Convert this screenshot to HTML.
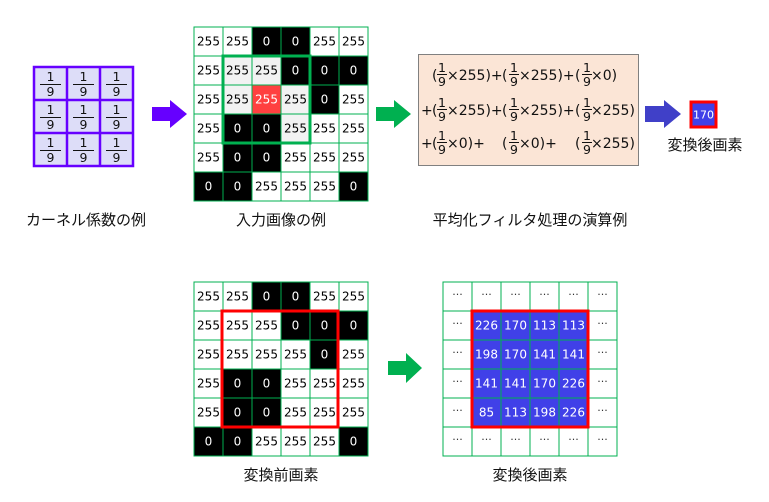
<!DOCTYPE html>
<html><head><meta charset="utf-8"><style>
html,body{margin:0;padding:0;background:#fff;}
svg{display:block;}
text{font-family:"DejaVu Sans","Liberation Sans","Noto Sans CJK JP",sans-serif;}
.n{font-size:12px;text-anchor:middle;}
.w{fill:#fff;}
.lb{font-family:"Liberation Sans","Noto Sans CJK JP",sans-serif;font-size:15px;text-anchor:middle;fill:#111;}
.f{font-size:14px;fill:#111;}
.fr{font-size:12.5px;text-anchor:middle;fill:#111;}
</style></head><body>
<svg width="769" height="502" viewBox="0 0 769 502" xmlns="http://www.w3.org/2000/svg">
<!-- kernel -->
<rect x="34" y="67" width="99" height="99" fill="#ddddf8" stroke="#6600ff" stroke-width="2.5"/>
<path d="M67 67V166M100 67V166M34 100H133M34 133H133" stroke="#6600ff" stroke-width="2.5"/>
<g class="fr">
<text x="50.5" y="81">1</text><text x="83.5" y="81">1</text><text x="116.5" y="81">1</text>
<text x="50.5" y="96">9</text><text x="83.5" y="96">9</text><text x="116.5" y="96">9</text>
<text x="50.5" y="114">1</text><text x="83.5" y="114">1</text><text x="116.5" y="114">1</text>
<text x="50.5" y="129">9</text><text x="83.5" y="129">9</text><text x="116.5" y="129">9</text>
<text x="50.5" y="147">1</text><text x="83.5" y="147">1</text><text x="116.5" y="147">1</text>
<text x="50.5" y="162">9</text><text x="83.5" y="162">9</text><text x="116.5" y="162">9</text>
</g>
<path d="M40 84.5H61M73 84.5H94M106 84.5H127M40 117.5H61M73 117.5H94M106 117.5H127M40 150.5H61M73 150.5H94M106 150.5H127" stroke="#111" stroke-width="1"/>
<!-- arrows -->
<polygon points="152,107 170,107 170,100 187,114 170,128 170,121 152,121" fill="#6600ff"/>
<polygon points="376,107 394,107 394,100 411,114 394,128 394,121 376,121" fill="#00b050"/>
<polygon points="645,106 664,106 664,100 681,114 664,128 664,122 645,122" fill="#4040c8"/>
<polygon points="388,361 406,361 406,353 422,368 406,383 406,375 388,375" fill="#00b050"/>

<!-- top grid -->
<g>
<rect x="194" y="27" width="174" height="174" fill="#fff"/>
<rect x="252" y="27" width="58" height="29" fill="#000"/>
<rect x="281" y="56" width="87" height="29" fill="#000"/>
<rect x="310" y="85" width="29" height="29" fill="#000"/>
<rect x="223" y="114" width="58" height="58" fill="#000"/>
<rect x="194" y="172" width="58" height="29" fill="#000"/>
<rect x="339" y="172" width="29" height="29" fill="#000"/>
<rect x="223" y="56" width="58" height="29" fill="#f2f2f2"/>
<rect x="223" y="85" width="29" height="29" fill="#f2f2f2"/>
<rect x="281" y="85" width="29" height="58" fill="#f2f2f2"/>
<rect x="252" y="85" width="29" height="29" fill="#ff4040"/>
<path d="M194 27H368V201H194ZM223 27V201M252 27V201M281 27V201M310 27V201M339 27V201M194 56H368M194 85H368M194 114H368M194 143H368M194 172H368" fill="none" stroke="#00b050" stroke-width="1"/>
<rect x="223" y="56" width="87" height="87" fill="none" stroke="#00b050" stroke-width="3"/>
</g>
<g class="n">
<text x="208.5" y="45.5">255</text><text x="237.5" y="45.5">255</text><text class="n w" x="266.5" y="45.5">0</text><text class="n w" x="295.5" y="45.5">0</text><text x="324.5" y="45.5">255</text><text x="353.5" y="45.5">255</text>
<text x="208.5" y="74.5">255</text><text x="237.5" y="74.5">255</text><text x="266.5" y="74.5">255</text><text class="n w" x="295.5" y="74.5">0</text><text class="n w" x="324.5" y="74.5">0</text><text class="n w" x="353.5" y="74.5">0</text>
<text x="208.5" y="103.5">255</text><text x="237.5" y="103.5">255</text><text class="n w" x="266.5" y="103.5">255</text><text x="295.5" y="103.5">255</text><text class="n w" x="324.5" y="103.5">0</text><text x="353.5" y="103.5">255</text>
<text x="208.5" y="132.5">255</text><text class="n w" x="237.5" y="132.5">0</text><text class="n w" x="266.5" y="132.5">0</text><text x="295.5" y="132.5">255</text><text x="324.5" y="132.5">255</text><text x="353.5" y="132.5">255</text>
<text x="208.5" y="161.5">255</text><text class="n w" x="237.5" y="161.5">0</text><text class="n w" x="266.5" y="161.5">0</text><text x="295.5" y="161.5">255</text><text x="324.5" y="161.5">255</text><text x="353.5" y="161.5">255</text>
<text class="n w" x="208.5" y="190.5">0</text><text class="n w" x="237.5" y="190.5">0</text><text x="266.5" y="190.5">255</text><text x="295.5" y="190.5">255</text><text x="324.5" y="190.5">255</text><text class="n w" x="353.5" y="190.5">0</text>
</g>

<!-- formula box -->
<rect x="418.5" y="54.5" width="220" height="111" fill="#fbe5d6" stroke="#808080" stroke-width="1"/>
<g class="f">
<text x="432" y="80">(</text><text x="447" y="80">×255)+</text><text x="502" y="80">(</text><text x="519" y="80">×255)+</text><text x="575" y="80">(</text><text x="591" y="80">×0)</text>
<text x="421" y="115">+</text><text x="432" y="115">(</text><text x="447" y="115">×255)+</text><text x="502" y="115">(</text><text x="519" y="115">×255)+</text><text x="575" y="115">(</text><text x="591" y="115">×255)</text>
<text x="421" y="148">+</text><text x="432" y="148">(</text><text x="447" y="148">×0)+</text><text x="502" y="148">(</text><text x="519" y="148">×0)+</text><text x="575" y="148">(</text><text x="591" y="148">×255)</text>
</g>
<g class="fr">
<text x="442" y="72">1</text><text x="442" y="86">9</text><text x="514" y="72">1</text><text x="514" y="86">9</text><text x="587" y="72">1</text><text x="587" y="86">9</text>
<text x="442" y="107">1</text><text x="442" y="121">9</text><text x="514" y="107">1</text><text x="514" y="121">9</text><text x="587" y="107">1</text><text x="587" y="121">9</text>
<text x="442" y="140">1</text><text x="442" y="154">9</text><text x="514" y="140">1</text><text x="514" y="154">9</text><text x="587" y="140">1</text><text x="587" y="154">9</text>
</g>
<path d="M437 74.5H447M509 74.5H519M582 74.5H592M437 109.5H447M509 109.5H519M582 109.5H592M437 142.5H447M509 142.5H519M582 142.5H592" stroke="#111" stroke-width="1"/>

<!-- 170 -->
<rect x="691" y="102" width="25" height="25" fill="#4040e8" stroke="#ff0000" stroke-width="3"/>
<text class="n w" x="703.5" y="118.5" style="font-size:11px">170</text>
<text class="lb" x="705" y="150">変換後画素</text>

<!-- labels -->
<text class="lb" x="86" y="225">カーネル係数の例</text>
<text class="lb" x="281" y="225">入力画像の例</text>
<text class="lb" x="530" y="225">平均化フィルタ処理の演算例</text>
<text class="lb" x="281" y="480">変換前画素</text>
<text class="lb" x="530" y="480">変換後画素</text>

<!-- bottom left grid -->
<g>
<rect x="194" y="282" width="174" height="174" fill="#fff"/>
<rect x="252" y="282" width="58" height="29" fill="#000"/>
<rect x="281" y="311" width="87" height="29" fill="#000"/>
<rect x="310" y="340" width="29" height="29" fill="#000"/>
<rect x="223" y="369" width="58" height="58" fill="#000"/>
<rect x="194" y="427" width="58" height="29" fill="#000"/>
<rect x="339" y="427" width="29" height="29" fill="#000"/>
<path d="M194 282H368V456H194ZM223 282V456M252 282V456M281 282V456M310 282V456M339 282V456M194 311H368M194 340H368M194 369H368M194 398H368M194 427H368" fill="none" stroke="#00b050" stroke-width="1"/>
<rect x="222" y="311" width="116" height="116" fill="none" stroke="#ff0000" stroke-width="3"/>
</g>
<g class="n">
<text x="208.5" y="300.5">255</text><text x="237.5" y="300.5">255</text><text class="n w" x="266.5" y="300.5">0</text><text class="n w" x="295.5" y="300.5">0</text><text x="324.5" y="300.5">255</text><text x="353.5" y="300.5">255</text>
<text x="208.5" y="329.5">255</text><text x="237.5" y="329.5">255</text><text x="266.5" y="329.5">255</text><text class="n w" x="295.5" y="329.5">0</text><text class="n w" x="324.5" y="329.5">0</text><text class="n w" x="353.5" y="329.5">0</text>
<text x="208.5" y="358.5">255</text><text x="237.5" y="358.5">255</text><text x="266.5" y="358.5">255</text><text x="295.5" y="358.5">255</text><text class="n w" x="324.5" y="358.5">0</text><text x="353.5" y="358.5">255</text>
<text x="208.5" y="387.5">255</text><text class="n w" x="237.5" y="387.5">0</text><text class="n w" x="266.5" y="387.5">0</text><text x="295.5" y="387.5">255</text><text x="324.5" y="387.5">255</text><text x="353.5" y="387.5">255</text>
<text x="208.5" y="416.5">255</text><text class="n w" x="237.5" y="416.5">0</text><text class="n w" x="266.5" y="416.5">0</text><text x="295.5" y="416.5">255</text><text x="324.5" y="416.5">255</text><text x="353.5" y="416.5">255</text>
<text class="n w" x="208.5" y="445.5">0</text><text class="n w" x="237.5" y="445.5">0</text><text x="266.5" y="445.5">255</text><text x="295.5" y="445.5">255</text><text x="324.5" y="445.5">255</text><text class="n w" x="353.5" y="445.5">0</text>
</g>

<!-- bottom right grid -->
<g>
<rect x="443" y="282" width="174" height="174" fill="#fff"/>
<rect x="472" y="311" width="116" height="116" fill="#4040e8"/>
<path d="M443 282H617V456H443ZM472 282V456M501 282V456M530 282V456M559 282V456M588 282V456M443 311H617M443 340H617M443 369H617M443 398H617M443 427H617" fill="none" stroke="#00b050" stroke-width="1"/>
<rect x="472" y="311" width="116" height="116" fill="none" stroke="#ff0000" stroke-width="3"/>
</g>
<g class="n" fill="#333" style="font-size:11px">
<text x="457.5" y="298">···</text><text x="486.5" y="298">···</text><text x="515.5" y="298">···</text><text x="544.5" y="298">···</text><text x="573.5" y="298">···</text><text x="602.5" y="298">···</text>
<text x="457.5" y="327">···</text><text x="602.5" y="327">···</text>
<text x="457.5" y="356">···</text><text x="602.5" y="356">···</text>
<text x="457.5" y="385">···</text><text x="602.5" y="385">···</text>
<text x="457.5" y="414">···</text><text x="602.5" y="414">···</text>
<text x="457.5" y="443">···</text><text x="486.5" y="443">···</text><text x="515.5" y="443">···</text><text x="544.5" y="443">···</text><text x="573.5" y="443">···</text><text x="602.5" y="443">···</text>
</g>
<g class="n w">
<text x="486.5" y="329.5">226</text><text x="515.5" y="329.5">170</text><text x="544.5" y="329.5">113</text><text x="573.5" y="329.5">113</text>
<text x="486.5" y="358.5">198</text><text x="515.5" y="358.5">170</text><text x="544.5" y="358.5">141</text><text x="573.5" y="358.5">141</text>
<text x="486.5" y="387.5">141</text><text x="515.5" y="387.5">141</text><text x="544.5" y="387.5">170</text><text x="573.5" y="387.5">226</text>
<text x="486.5" y="416.5">85</text><text x="515.5" y="416.5">113</text><text x="544.5" y="416.5">198</text><text x="573.5" y="416.5">226</text>
</g>
</svg>
</body></html>
